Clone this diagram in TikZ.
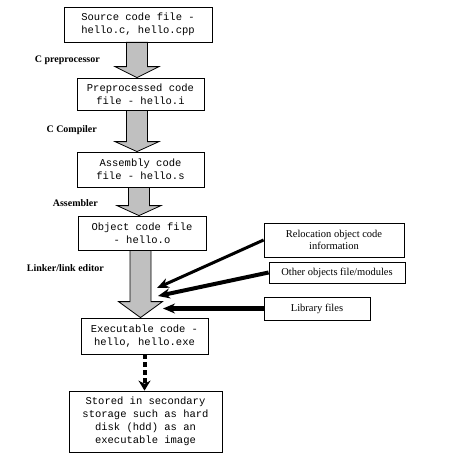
\documentclass[tikz,border=0pt]{standalone}
\usepackage{fontspec}
\setmainfont{Liberation Serif}
\setmonofont{Liberation Mono}
\usetikzlibrary{arrows.meta,calc}

\definecolor{stagegray}{RGB}{192,192,192}

% block arrow between two stage boxes: #1 upper box, #2 lower box, #3 centre x, #4 head length
\newcommand{\stagearrow}[4]{%
  \draw[stage] (#3-10.5,0 |- #1.south) -- (#3+10.5,0 |- #1.south)
    -- ($(#3+10.5,0 |- #2.north)+(0,-#4)$) -- ($(#3+22,0 |- #2.north)+(0,-#4)$)
    -- (#3,0 |- #2.north)
    -- ($(#3-22,0 |- #2.north)+(0,-#4)$) -- ($(#3-10.5,0 |- #2.north)+(0,-#4)$) -- cycle;
}

\begin{document}
\begin{tikzpicture}[
  x=1pt, y=-1pt,
  >=Stealth,
  box/.style={draw, line width=0.8pt, fill=white, inner sep=0pt, align=center, font=\ttfamily\fontsize{10.5}{13}\selectfont},
  note/.style={draw, line width=0.8pt, fill=white, inner sep=0pt, align=center, font=\fontsize{10.5}{12.5}\selectfont},
  tool/.style={anchor=east, inner sep=0pt, font=\bfseries\fontsize{10}{12}\selectfont},
  stage/.style={draw=black, line width=0.8pt, fill=stagegray, line join=miter},
  feed/.style={-{Stealth[length=12pt,width=10pt]}},
  dotarr/.style={line width=4pt, dash pattern=on 5pt off 3pt, -{Stealth[length=10pt,width=12pt]}}
]

\path[fill=white, use as bounding box] (0,0) rectangle (453,460);

% Build stages
\node[box, minimum width=148, minimum height=35] (src) at (138,24.5) {Source code file -\\hello.c, hello.cpp};
\node[box, minimum width=127, minimum height=32] (pre) at (140.5,94) {Preprocessed code\\file - hello.i};
\node[box, minimum width=127, minimum height=35] (asm) at (140.5,169.5) {Assembly code\\file - hello.s};
\node[box, minimum width=128, minimum height=34] (obj) at (142,233) {Object code file\\- hello.o};
\node[box, minimum width=127, minimum height=36] (exe) at (144.5,336) {Executable code -\\hello, hello.exe};
\node[box, minimum width=153, minimum height=61] (store) at (145.5,421.5) {Stored in secondary\\storage such as hard\\disk (hdd) as an\\executable image};

% Tools
\node[tool] (cpp) at (100,60) {C preprocessor};
\node[tool] (cc) at (97,130) {C Compiler};
\node[tool] (as) at (98,203) {Assembler};
\node[tool] (ld) at (104,268) {Linker/link editor};

\stagearrow{src}{pre}{137}{11}
\stagearrow{pre}{asm}{137}{10}
\stagearrow{asm}{obj}{139}{10}
\stagearrow{obj}{exe}{140.5}{16}

% Linker inputs
\node[note, minimum width=140, minimum height=34] (rel) at (334,240) {Relocation object code\\information};
\node[note, minimum width=136, minimum height=21] (oth) at (337,272.5) {Other objects file/modules};
\node[note, minimum width=106, minimum height=23] (lib) at (317,308.5) {Library files};

\coordinate (in1) at (157,288);
\coordinate (in2) at (158,296);
\coordinate (in3) at (163,308.5);

\draw[feed, line width=3pt] (rel.west) -- (in1);
\draw[feed, line width=4pt] (oth.west) -- (in2);
\draw[feed, line width=5pt] (lib.west) -- (in3);

% Storage
\draw[dotarr] (exe.south) -- (exe.south |- store.north);

\end{tikzpicture}
\end{document}
